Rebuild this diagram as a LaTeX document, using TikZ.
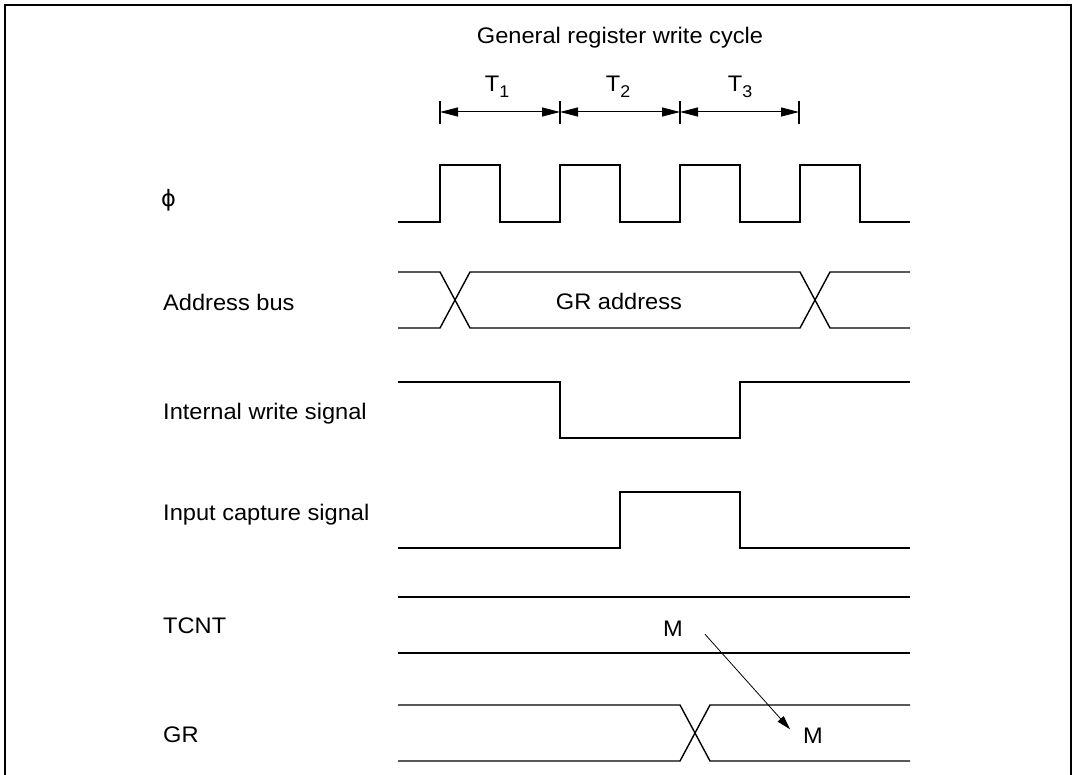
\documentclass[tikz,border=0pt]{standalone}
\usepackage{graphicx}
\usepackage{fontspec}
\setmainfont{Liberation Sans}
\newfontfamily\phifont{DejaVu Sans}
\usetikzlibrary{arrows.meta}
\newcommand\sx[1]{\scalebox{1.05}[1]{#1}}
\newcommand\tsub[1]{\raisebox{-6pt}{\fontsize{17}{19}\selectfont #1}}
\begin{document}
\begin{tikzpicture}[x=1pt,y=-1pt,line join=miter,
  sig/.style={line width=1.4pt},
  frame/.style={line width=2.8pt},
  lbl/.style={inner sep=0pt,anchor=base west,font=\fontsize{22.5}{26}\selectfont},
  ctr/.style={inner sep=0pt,anchor=base,font=\fontsize{22.5}{26}\selectfont},
  tick/.style={line width=1.2pt},
  dim/.style={line width=1pt,{Triangle[length=18pt,width=9pt]}-{Triangle[length=18pt,width=9pt]}},
  flow/.style={line width=0.8pt,-{Triangle[length=14pt,width=8pt]}}]
\useasboundingbox (0,0) rectangle (1075,775);
% frame
\draw[frame] (5,775) -- (5,5) -- (1071,5) -- (1071,775);
% title
\node[ctr] (title) at (620,44) {\sx{General register write cycle}};
% T states
\coordinate (t0) at (440,112);
\coordinate (t1) at (560,112);
\coordinate (t2) at (680,112);
\coordinate (t3) at (799,112);
\foreach \c in {t0,t1,t2,t3}{\draw[tick] ([yshift=-12pt]\c) -- ([yshift=11pt]\c);}
\draw[dim] (t0) -- (t1);
\draw[dim] (t1) -- (t2);
\draw[dim] (t2) -- (t3);
\node[ctr] (T1) at (497,92) {\sx{T\tsub{1}}};
\node[ctr] (T2) at (618,92) {\sx{T\tsub{2}}};
\node[ctr] (T3) at (740,92) {\sx{T\tsub{3}}};
% labels
\node[lbl] (lphi) at (161,207) {\phifont ϕ};
\node[lbl] (laddr) at (163,311) {\sx{Address bus}};
\node[lbl] (lwr) at (163,419) {\sx{Internal write signal}};
\node[lbl] (lic) at (163,520) {\sx{Input capture signal}};
\node[lbl] (ltcnt) at (163,633) {\sx{TCNT}};
\node[lbl] (lgr) at (163,742) {\sx{GR}};
% phi clock
\draw[sig] (398,222) -- (440,222) -- (440,165) -- (500,165) -- (500,222)
  -- (560,222) -- (560,165) -- (620,165) -- (620,222)
  -- (680,222) -- (680,165) -- (740,165) -- (740,222)
  -- (800,222) -- (800,165) -- (860,165) -- (860,222) -- (910,222);
% address bus
\draw[sig] (398,272) -- (440,272) -- (470,328) -- (800,328) -- (830,272) -- (910,272);
\draw[sig] (398,328) -- (440,328) -- (470,272) -- (800,272) -- (830,328) -- (910,328);
\node[ctr] (gra) at (619,309) {\sx{GR address}};
% internal write
\draw[sig] (398,382) -- (560,382) -- (560,438) -- (740,438) -- (740,382) -- (910,382);
% input capture
\draw[sig] (398,548) -- (620,548) -- (620,492) -- (740,492) -- (740,548) -- (910,548);
% TCNT
\draw[sig] (398,597) -- (910,597);
\draw[sig] (398,653) -- (910,653);
\node[ctr] (M1) at (673,636) {\sx{M}};
% GR
\draw[sig] (398,705) -- (680,705) -- (710,761) -- (910,761);
\draw[sig] (398,761) -- (680,761) -- (710,705) -- (910,705);
\node[ctr] (M2) at (813,743) {\sx{M}};
% transfer arrow
\draw[flow] ([shift={(32,6)}]M1.center) -- ([shift={(-23,-6)}]M2.center);
\end{tikzpicture}
\end{document}
